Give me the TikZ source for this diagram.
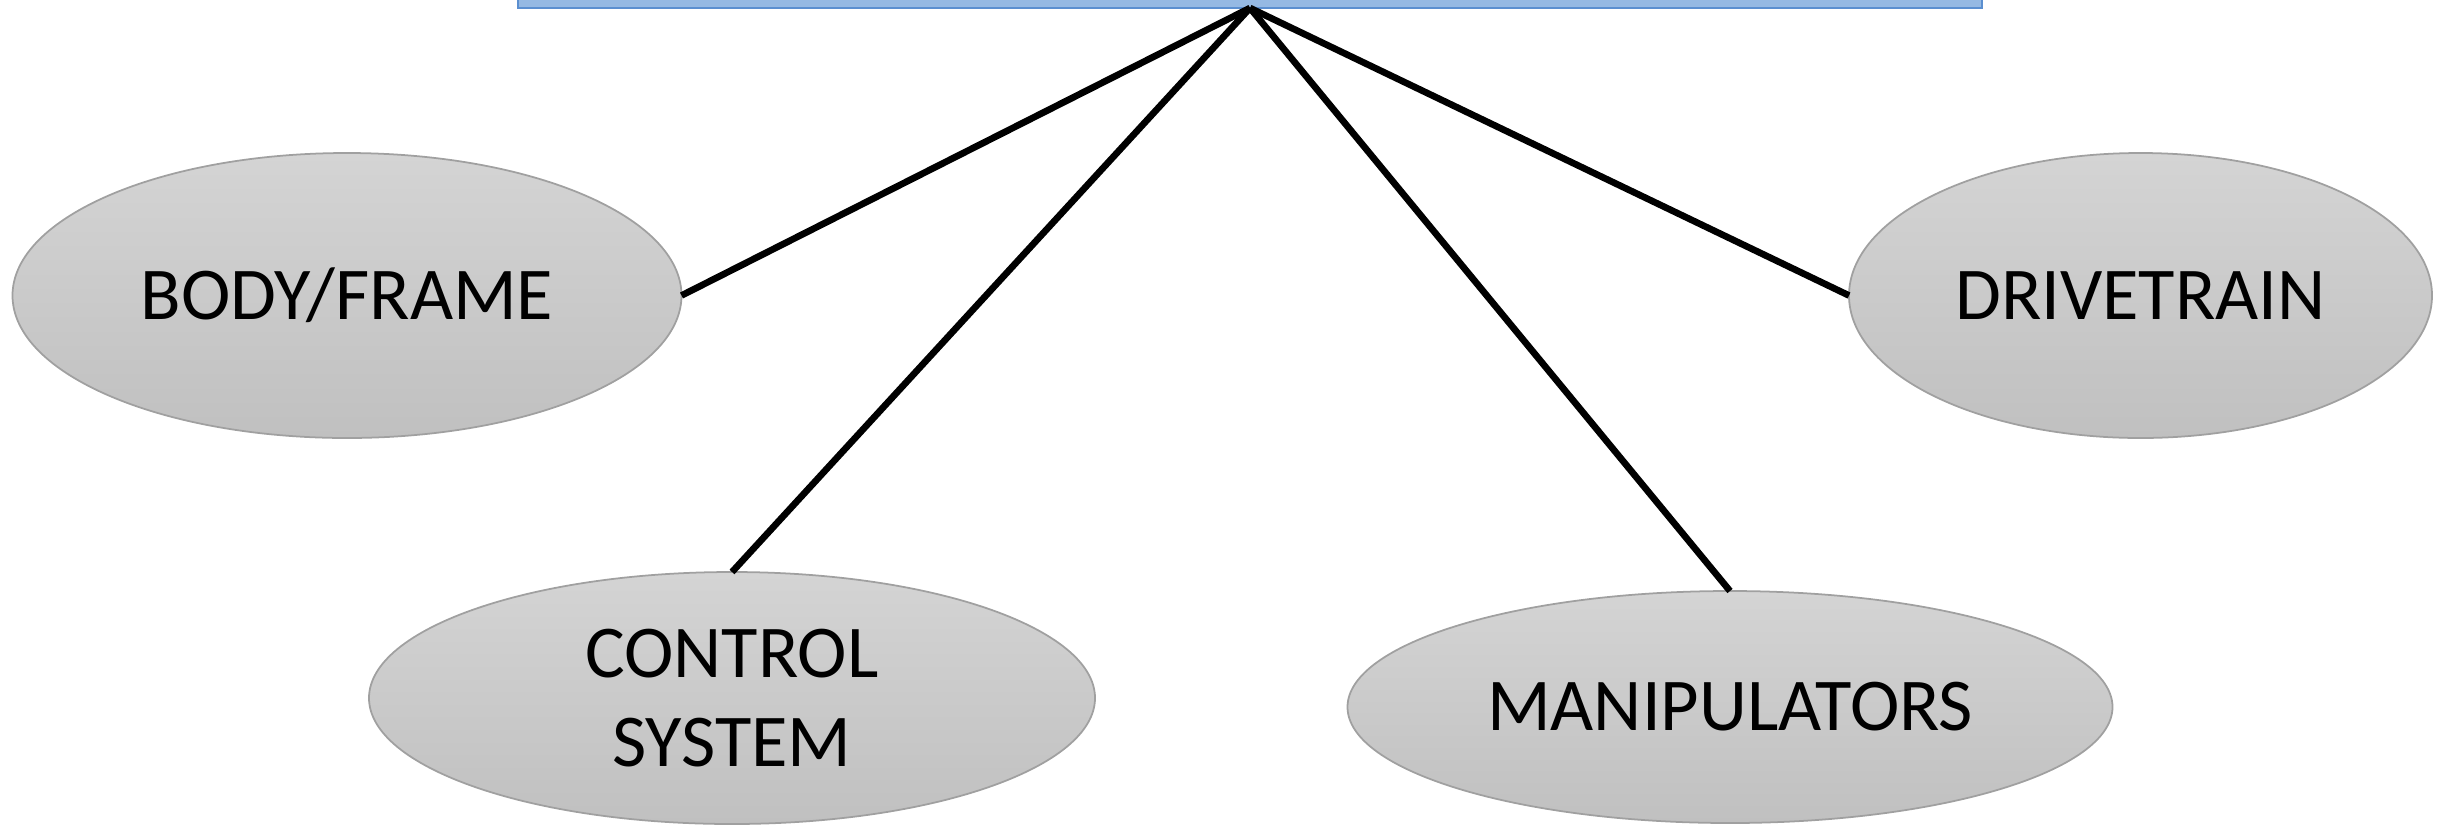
\documentclass[tikz,border=0pt]{standalone}
\usepackage{fontspec}
\setmainfont{Carlito}
\usetikzlibrary{shapes.geometric}
\definecolor{topfill}{RGB}{149,185,227}
\definecolor{topdraw}{RGB}{91,143,208}
\definecolor{elltop}{RGB}{212,212,212}
\definecolor{ellbot}{RGB}{192,192,192}
\definecolor{elldraw}{RGB}{160,160,160}
\tikzset{
  topbox/.style={rectangle, fill=topfill, draw=topdraw, line width=0.8pt, minimum width=14.64cm, minimum height=0.6cm, inner sep=0pt, outer sep=0pt},
  partell/.style={ellipse, draw=elldraw, line width=0.5pt, top color=elltop, bottom color=ellbot, inner sep=0pt, outer sep=0pt, align=center, font=\fontsize{21.2}{25.5}\selectfont},
  link/.style={line width=1.9pt, black}
}
\begin{document}
\begin{tikzpicture}
\useasboundingbox (0,0) rectangle (24.45,-8.25);
\node[topbox, anchor=south] (top) at (12.50,-0.08) {};
\node[partell, minimum width=6.69cm, minimum height=2.85cm] (body) at (3.47,-2.955) {BODY/FRAME};
\node[partell, minimum width=5.83cm, minimum height=2.85cm] (drive) at (21.405,-2.955) {DRIVETRAIN};
\node[partell, minimum width=7.26cm, minimum height=2.52cm] (ctrl) at (7.32,-6.98) {CONTROL\\SYSTEM};
\node[partell, minimum width=7.65cm, minimum height=2.32cm] (manip) at (17.30,-7.07) {MANIPULATORS};
\draw[link] (top.south) -- (body.east);
\draw[link] (top.south) -- (drive.west);
\draw[link] (top.south) -- (ctrl.north);
\draw[link] (top.south) -- (manip.north);
\end{tikzpicture}
\end{document}
